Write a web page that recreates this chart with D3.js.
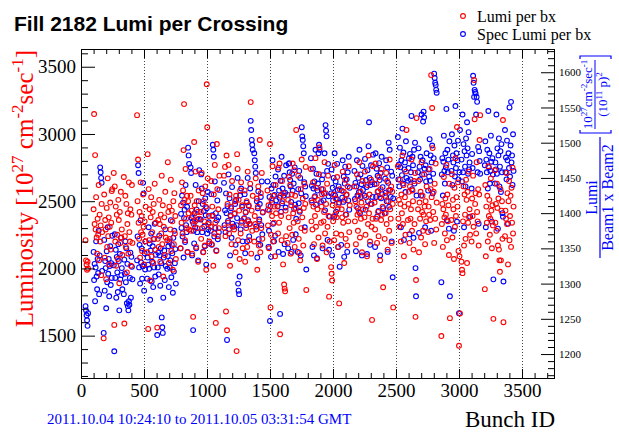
<!DOCTYPE html>
<html>
<head>
<meta charset="utf-8">
<script src="https://cdn.jsdelivr.net/npm/d3@7"></script>
<style>
  body { margin: 0; background: #fff; }
  svg { display: block; }
</style>
</head>
<body>
<svg id="chart" width="619" height="432"></svg>
<script>
// First bunch ID of each train (a 12-bunch pilot train, then batches of 36-bunch trains)
const trainStart = [36, 100, 180, 260, 340, 445, 525, 605, 685, 790, 870, 950, 1030,
  1135, 1215, 1295, 1375, 1480, 1560, 1640, 1720, 1825, 1905, 1985, 2065,
  2170, 2250, 2330, 2410, 2515, 2595, 2675, 2755, 2860, 2940, 3020, 3100,
  3205, 3285, 3365];
// spacing (in BX) between the plotted bunches of a train
const bxStep = 4;

// Luminosity per bunch crossing [1e27 cm^-2 s^-1], one string per train
const lumiPerBx = [
  "2210 2060 2030 1990 2050 2000",
  "2440 3148 2330 2843 2290 2530 2230 2110 2370 2250 2620 2060 2400 2200 2320 1950 2480 2270",
  "1480 2550 2080 2360 2290 1920 2450 2160 2670 2240 2380 2030 2310 2490 2140 2340 2575 2590",
  "2710 1580 2610 2200 2460 2020 2400 2250 2070 2510 2360 1890 2420 2190 2570 2230 2290 2100",
  "2680 1590 2240 2540 2160 2480 1970 2330 2410 2110 2640 2270 2200 2440 2020 2400 2620 2190",
  "3140 2500 2810 2340 2220 2420 2080 2640 2270 2390 2130 2250 2550 2310 2030 2350 2200 2460",
  "2120 2850 1550 2590 2210 2440 1910 2380 2530 2090 2270 2420 2040 2480 2220 2630 2140 2340",
  "1560 2220 2360 2160 2510 2330 2050 2400 2260 2690 2180 2470 1940 2310 2380 2100 2570 2230",
  "2210 2790 2420 2040 2460 2220 2290 2660 2130 2430 2350 1990 2500 2180 2560 2260 2390 2070",
  "2150 2470 2340 2640 2260 2580 2880 3222 2510 2210 2740 2370 2300 2540 2120 2500 2410 2290",
  "2540 2280 2430 2110 2390 1640 2330 2940 2470 2350 2720 2160 2500 2300 2420 2050 2580 2370",
  "2420 2220 2710 2300 2560 2120 2500 2350 2170 2610 2460 1990 3370 3050 2670 2330 2390 2200",
  "2310 2650 2180 2460 2390 2020 2550 2260 2770 2340 1595 2130 2925 2590 2240 2440 2300 2690",
  "2690 2300 2755 2240 1680 2840 1540 2480 2340 2770 2260 2550 2020 2390 2460 2180 2650 2310",
  "2290 2410 2500 2120 2540 1385 2850 2740 2210 2510 2430 2070 2580 2260 2640 2340 2470 2150",
  "2370 2580 2050 2420 2300 2500 2160 2720 2350 2470 2210 2330 2630 3237 2110 2430 2280 2540",
  "2200 2390 2330 2670 2290 2520 1990 2460 2610 2170 2350 2955 2120 2560 2300 2710 2220 2420",
  "2580 2320 2470 2150 2430 2925 1710 2250 2510 2390 2760 2200 2540 2340 2460 2090 2620 2410",
  "2460 2260 2750 2340 2780 1510 2540 2390 2210 2650 2500 2030 2560 1880 1850 1830 2430 2240",
  "2190 2510 2380 2680 2300 2620 2110 2470 2550 2250 2780 2410 2340 2730 2160 2540 2450 3030",
  "2350 2690 2220 2115 2430 2060 2590 2300 2810 2380 2520 2170 2450 2630 2280 2480 2755 1840",
  "2740 2350 2490 2290 2640 2460 2180 2530 2390 2820 2310 2600 2070 2440 2510 2230 2700 2900",
  "2340 2460 2550 2170 2590 2350 2420 2790 2260 2560 2480 2120 2630 2310 2690 2390 1790 2200",
  "2010 1960 1910 2470 2350 2550 2210 2770 2400 2520 2260 2380 2680 2440 2160 2480 1740 2590",
  "2250 2440 2380 2720 2340 2570 2040 2510 2660 2220 2400 2550 2170 2610 2350 2760 2270 2470",
  "2610 2350 2500 2180 2460 2700 2400 2280 2540 2420 2790 2230 2570 2370 2490 2120 2650 2440",
  "2380 2720 2250 2530 2460 2090 2620 2330 2840 2410 2550 2200 2480 2660 2310 1617 2370 2760",
  "2490 2290 2780 2370 2630 2190 2570 2420 2240 2680 2530 2060 2590 2360 2740 2400 2460 1860",
  "2220 2540 2410 2710 2330 2650 2140 2500 2580 2280 2810 2440 2370 2610 2190 2570 2480 1710",
  "2760 2370 2510 2310 2660 2480 2200 2550 2410 2840 2330 2620 2090 2460 2530 2250 2720 3030",
  "2360 2480 2570 2190 2610 2370 2440 2810 2280 2580 2500 2140 2650 2330 2710 1640 1914 3118",
  "2440 2650 2120 2490 2370 2570 2230 2790 2420 2540 2280 2400 2700 2460 2180 2500 2350 2610",
  "2270 2460 2400 2740 2360 2590 3438 2530 3193 2895 2420 2570 2190 2630 2370 2780 2290 2490",
  "1497 2330 2480 2160 2440 2680 2380 2260 2520 2400 2770 2210 2550 2350 2470 2100 2630 1630",
  "2360 2700 2230 2510 2440 2070 2600 2310 2820 2390 2530 3052 2460 2640 2130 1425 2090 1665",
  "2050 1990 1965 2350 2610 2170 2550 2400 2220 2660 2510 2040 2570 2340 2720 2380 2440 2250",
  "2200 2520 2390 2690 2310 3401 3110 2480 2560 2260 2790 2420 2350 2590 2170 2550 2955 3140",
  "1846 2620 2090 2460 2340 2540 2200 2760 2390 2510 2250 2370 2670 2430 2150 2470 2320 1625",
  "2730 2340 2480 2280 2630 2450 2170 2520 2140 2060 1975 2590 2060 2430 2500 2220 3104 1600",
  "2240 2430 2370 2710 2330 2560 2030 2500 2650 2210 2390 2540 2160 2600 2340 2750 2260 2460"
];

// Specific luminosity per bunch crossing [1e27 cm^-2 s^-1 / (1e11 p)^2], one string per train
const specLumiPerBx = [
  "1268 1262 1255 1248 1240 1258",
  "1345 1305 1328 1275 1323 1360 1310 1292 1335 1315 1375 1285 1340 1465 1458 1450 1443 1318",
  "1230 1362 1290 1332 1322 1265 1346 1302 1380 1314 1335 1282 1325 1353 1298 1329 1308 1368",
  "1326 1204 1370 1308 1348 1280 1338 1316 1288 1356 1332 1262 1342 1306 1365 1312 1322 1292",
  "1285 1334 1314 1360 1302 1350 1272 1328 1268 1262 1275 1270 1308 1344 1280 1338 1324 1306",
  "1333 1367 1468 1457 1323 1355 1300 1390 1330 1350 1307 1325 1443 1428 1290 1343 1320 1360",
  "1307 1337 1327 1380 1321 1357 1277 1347 1371 1303 1331 1353 1295 1363 1323 1385 1310 1341",
  "1227 1323 1344 1313 1368 1340 1297 1350 1329 1252 1238 1230 1280 1337 1347 1305 1377 1325",
  "1321 1339 1353 1295 1359 1323 1333 1390 1309 1355 1343 1287 1365 1317 1375 1329 1349 1300",
  "1350 1399 1379 1425 1367 1415 1337 1393 1405 1359 1440 1383 1373 1409 1345 1493 1482 1470",
  "1465 1457 1393 1340 1388 1234 1375 1357 1400 1380 1440 1350 1405 1373 1391 1333 1417 1461",
  "1391 1455 1435 1373 1413 1345 1403 1381 1353 1421 1397 1327 1407 1371 1430 1377 1387 1357",
  "1375 1427 1355 1397 1497 1490 1480 1367 1445 1379 1400 1347 1390 1418 1363 1394 1373 1433",
  "1443 1383 1404 1373 1428 1400 1220 1410 1389 1455 1377 1421 1340 1397 1407 1365 1437 1385",
  "1381 1399 1413 1355 1419 1383 1393 1450 1300 1290 1285 1310 1425 1377 1435 1389 1409 1360",
  "1393 1427 1343 1401 1383 1415 1360 1450 1390 1410 1367 1385 1435 1531 1518 1504 1497 1490",
  "1485 1475 1466 1457 1381 1417 1337 1407 1431 1363 1391 1413 1355 1423 1383 1445 1370 1401",
  "1445 1405 1352 1375 1423 1247 1410 1338 1435 1415 1475 1385 1440 1360 1426 1368 1452 1418",
  "1410 1462 1345 1432 1422 1257 1446 1402 1480 1414 1435 1342 1425 1453 1356 1429 1408 1468",
  "1426 1350 1470 1471 1458 1447 1438 1416 1345 1456 1432 1362 1442 1406 1465 1412 1370 1392",
  "1345 1434 1414 1460 1402 1450 1340 1428 1522 1509 1504 1495 1485 1444 1380 1438 1424 1320",
  "1478 1418 1439 1352 1463 1435 1340 1445 1424 1490 1412 1456 1336 1432 1442 1485 1497 1490",
  "1416 1434 1448 1350 1454 1418 1428 1485 1404 1525 1517 1509 1460 1362 1470 1424 1348 1395",
  "1428 1462 1340 1436 1418 1450 1395 1485 1425 1445 1402 1420 1470 1433 1352 1438 1415 1324",
  "1355 1432 1422 1475 1416 1452 1338 1442 1466 1398 1426 1448 1345 1458 1418 1480 1405 1436",
  "1460 1420 1443 1346 1438 1475 1425 1407 1450 1430 1490 1400 1455 1423 1441 1340 1467 1433",
  "1425 1477 1405 1447 1437 1342 1461 1417 1495 1529 1450 1355 1440 1468 1413 1444 1423 1483",
  "1441 1352 1485 1423 1463 1395 1453 1431 1403 1471 1447 1340 1457 1421 1480 1427 1437 1407",
  "1400 1449 1429 1475 1417 1465 1345 1443 1500 1409 1490 1433 1423 1459 1360 1453 1309 1421",
  "1508 1448 1469 1438 1493 1465 1380 1475 1454 1520 1442 1486 1362 1462 1472 1430 1502 1450",
  "1446 1464 1478 1370 1484 1448 1458 1538 1434 1480 1468 1365 1490 1442 1500 1322 1282 1425",
  "1458 1492 1372 1466 1448 1480 1425 1540 1455 1475 1530 1544 1536 1463 1380 1468 1445 1485",
  "1432 1462 1452 1505 1446 1482 1375 1472 1496 1428 1456 1478 1598 1592 1585 1582 1575 1571",
  "1302 1455 1478 1425 1473 1510 1460 1442 1485 1465 1548 1390 1490 1458 1476 1378 1502 1282",
  "1460 1512 1440 1482 1472 1375 1496 1452 1552 1464 1485 1388 1475 1503 1448 1258 1458 1518",
  "1476 1445 1540 1458 1498 1380 1488 1466 1438 1506 1482 1529 1492 1456 1515 1462 1472 1395",
  "1435 1484 1464 1595 1585 1565 1575 1572 1570 1540 1565 1558 1458 1494 1385 1488 1474 1456",
  "1468 1502 1380 1476 1458 1490 1435 1545 1465 1485 1442 1460 1510 1473 1388 1478 1455 1306",
  "1442 1472 1462 1540 1456 1492 1378 1482 1506 1438 1466 1488 1430 1498 1458 1400 1395 1303",
  "1518 1458 1479 1448 1503 1475 1385 1485 1464 1550 1452 1496 1558 1472 1482 1440 1512 1460"
];

const xMajorTicks = [0, 500, 1000, 1500, 2000, 2500, 3000, 3500];
const yLeftMajorTicks = [1500, 2000, 2500, 3000, 3500];
const yRightMajorTicks = [1200, 1250, 1300, 1350, 1400, 1450, 1500, 1550, 1600];

// ---- expand trains into points ----
function expand(series) {
  const pts = [];
  series.forEach((s, t) => {
    s.split(" ").map(Number).forEach((v, i) => {
      pts.push({ bx: trainStart[t] + i * bxStep, v });
    });
  });
  return pts;
}
const lumiPts = expand(lumiPerBx);
const specPts = expand(specLumiPerBx);

// ---- layout ----
const frame = { left: 81, right: 555, top: 49, bottom: 378 };
const serif = "'Liberation Serif', 'Times New Roman', serif";
const sans = "'Liberation Sans', Arial, sans-serif";

const x = d3.scaleLinear().domain([0, 3762]).range([frame.left, frame.right]);
const yL = d3.scaleLinear().domain([1185, 3632]).range([frame.bottom, frame.top]);
const yR = d3.scaleLinear().domain([1166, 1633]).range([frame.bottom, frame.top]);

const svg = d3.select("#chart");
svg.append("rect").attr("width", 619).attr("height", 432).attr("fill", "#fff");

// vertical dotted grid
svg.append("g").selectAll("line")
  .data(xMajorTicks.filter(d => d > 0))
  .join("line")
  .attr("x1", d => Math.round(x(d)) + 0.5).attr("x2", d => Math.round(x(d)) + 0.5)
  .attr("y1", frame.top).attr("y2", frame.bottom)
  .attr("stroke", "#444").attr("stroke-width", 1).attr("stroke-dasharray", "1,2");

// markers: specific lumi first, then lumi on top
const marks = svg.append("g").attr("fill", "none").attr("stroke-width", 1.1);
marks.selectAll("circle.spec").data(specPts).join("circle")
  .attr("class", "spec")
  .attr("cx", d => x(d.bx)).attr("cy", d => yR(d.v)).attr("r", 2.4)
  .attr("stroke", "#0000ff");
marks.selectAll("circle.lumi").data(lumiPts).join("circle")
  .attr("class", "lumi")
  .attr("cx", d => x(d.bx)).attr("cy", d => yL(d.v)).attr("r", 2.4)
  .attr("stroke", "#ff0000");

// ---- axes ----
function styleAxis(g, size) {
  g.select(".domain").remove();
  g.selectAll("line").attr("stroke", "#000");
  g.selectAll("text").attr("fill", "#000").attr("font-family", serif).attr("font-size", size);
}
const xMinor = d3.range(0, 3701, 100).filter(d => d % 500 !== 0);
const yLMinor = d3.range(1200, 3601, 100).filter(d => d % 500 !== 0);
const yRMinor = d3.range(1170, 1631, 10).filter(d => d % 50 !== 0);

// bottom
svg.append("g").attr("transform", `translate(0,${frame.bottom})`)
  .call(d3.axisBottom(x).tickValues(xMinor).tickSizeInner(-5).tickSizeOuter(0).tickFormat(""))
  .call(g => styleAxis(g, 19));
svg.append("g").attr("transform", `translate(0,${frame.bottom})`)
  .call(d3.axisBottom(x).tickValues(xMajorTicks).tickSizeInner(-9).tickSizeOuter(0).tickPadding(6).tickFormat(d3.format("d")))
  .call(g => styleAxis(g, 19));
// top (mirror ticks)
svg.append("g").attr("transform", `translate(0,${frame.top})`)
  .call(d3.axisTop(x).tickValues(xMinor).tickSizeInner(-5).tickSizeOuter(0).tickFormat(""))
  .call(g => styleAxis(g, 19));
svg.append("g").attr("transform", `translate(0,${frame.top})`)
  .call(d3.axisTop(x).tickValues(xMajorTicks).tickSizeInner(-9).tickSizeOuter(0).tickFormat(""))
  .call(g => styleAxis(g, 19));
// left
svg.append("g").attr("transform", `translate(${frame.left},0)`)
  .call(d3.axisLeft(yL).tickValues(yLMinor).tickSizeInner(-7).tickSizeOuter(0).tickFormat(""))
  .call(g => styleAxis(g, 19));
svg.append("g").attr("transform", `translate(${frame.left},0)`)
  .call(d3.axisLeft(yL).tickValues(yLeftMajorTicks).tickSizeInner(-14).tickSizeOuter(0).tickPadding(5).tickFormat(d3.format("d")))
  .call(g => styleAxis(g, 19));
// right (specific lumi)
svg.append("g").attr("transform", `translate(${frame.right},0)`)
  .call(d3.axisRight(yR).tickValues(yRMinor).tickSizeInner(-7).tickSizeOuter(0).tickFormat(""))
  .call(g => styleAxis(g, 11));
svg.append("g").attr("transform", `translate(${frame.right},0)`)
  .call(d3.axisRight(yR).tickValues(yRightMajorTicks).tickSizeInner(-14).tickSizeOuter(0).tickPadding(4).tickFormat(d3.format("d")))
  .call(g => styleAxis(g, 11));

// frame
svg.append("rect")
  .attr("x", frame.left + 0.5).attr("y", frame.top + 0.5)
  .attr("width", frame.right - frame.left - 1).attr("height", frame.bottom - frame.top)
  .attr("fill", "none").attr("stroke", "#000").attr("stroke-width", 1);

// ---- texts ----
svg.append("text").attr("x", 14).attr("y", 31)
  .attr("font-family", sans).attr("font-weight", "bold").attr("font-size", 21)
  .attr("fill", "#000").text("Fill 2182 Lumi per Crossing");

const legend = [
  { label: "Lumi per bx", color: "#ff0000", y: 16 },
  { label: "Spec Lumi per bx", color: "#0000ff", y: 34 }
];
const lg = svg.append("g");
lg.selectAll("circle").data(legend).join("circle")
  .attr("cx", 463).attr("cy", d => d.y).attr("r", 2.4)
  .attr("fill", "none").attr("stroke", d => d.color).attr("stroke-width", 1.1);
lg.selectAll("text").data(legend).join("text")
  .attr("x", 477).attr("y", d => d.y + 6)
  .attr("font-family", serif).attr("font-size", 16).attr("fill", "#000")
  .text(d => d.label);

// left axis title
const lt = svg.append("text")
  .attr("transform", "translate(33,50) rotate(-90)")
  .attr("text-anchor", "end")
  .attr("font-family", serif).attr("font-size", 25).attr("fill", "#ff0000");
lt.append("tspan").text("Luminosity [10");
lt.append("tspan").attr("dy", -10).attr("font-size", 17).text("27");
lt.append("tspan").attr("dy", 10).text(" cm");
lt.append("tspan").attr("dy", -10).attr("font-size", 17).text("-2");
lt.append("tspan").attr("dy", 10).text("sec");
lt.append("tspan").attr("dy", -10).attr("font-size", 17).text("-1");
lt.append("tspan").attr("dy", 10).text("]");

// right axis title: Lumi / (Beam1 x Beam2) [1e27 cm^-2 sec^-1 / (1e11 p)^2]
const rt = svg.append("g")
  .attr("transform", "translate(600,258) rotate(-90)")
  .attr("fill", "#0000ff").attr("font-family", serif);
rt.append("line").attr("x1", 0).attr("x2", 121).attr("y1", 0).attr("y2", 0)
  .attr("stroke", "#0000ff").attr("stroke-width", 1.2);
rt.append("text").attr("x", 60.5).attr("y", -3).attr("text-anchor", "middle")
  .attr("font-size", 16).text("Lumi");
rt.append("text").attr("x", 60.5).attr("y", 13).attr("text-anchor", "middle")
  .attr("font-size", 16).text("Beam1 x Beam2");
rt.append("path").attr("d", "M128,-20H125V11H128").attr("fill", "none")
  .attr("stroke", "#0000ff").attr("stroke-width", 1.2);
rt.append("path").attr("d", "M199,-20H202V11H199").attr("fill", "none")
  .attr("stroke", "#0000ff").attr("stroke-width", 1.2);
rt.append("line").attr("x1", 129).attr("x2", 198).attr("y1", -5).attr("y2", -5)
  .attr("stroke", "#0000ff").attr("stroke-width", 1);
const num = rt.append("text").attr("x", 163.5).attr("y", -8).attr("text-anchor", "middle")
  .attr("font-size", 13);
num.append("tspan").text("10");
num.append("tspan").attr("dy", -5).attr("font-size", 9).text("27");
num.append("tspan").attr("dy", 5).text("cm");
num.append("tspan").attr("dy", -5).attr("font-size", 9).text("-2");
num.append("tspan").attr("dy", 5).text("sec");
num.append("tspan").attr("dy", -5).attr("font-size", 9).text("-1");
const den = rt.append("text").attr("x", 163.5).attr("y", 7).attr("text-anchor", "middle")
  .attr("font-size", 13);
den.append("tspan").text("(10");
den.append("tspan").attr("dy", -5).attr("font-size", 9).text("11");
den.append("tspan").attr("dy", 5).text(" p)");
den.append("tspan").attr("dy", -5).attr("font-size", 9).text("2");

// footer
svg.append("text").attr("x", 47).attr("y", 424)
  .attr("font-family", serif).attr("font-size", 15).attr("fill", "#0000ff")
  .text("2011.10.04 10:24:10 to 2011.10.05 03:31:54 GMT");
svg.append("text").attr("x", 555).attr("y", 427).attr("text-anchor", "end")
  .attr("font-family", serif).attr("font-size", 23).attr("fill", "#000")
  .text("Bunch ID");
</script>
</body>
</html>
